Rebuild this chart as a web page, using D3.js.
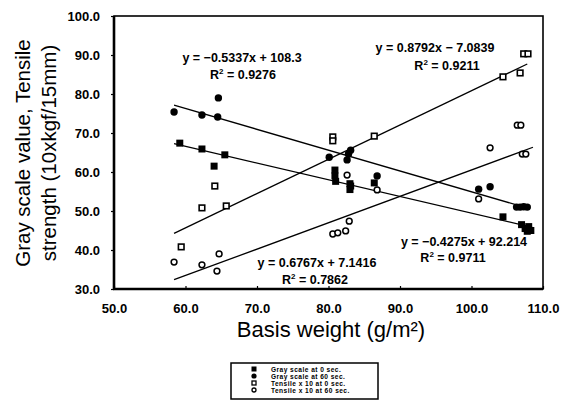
<!DOCTYPE html>
<html><head><meta charset="utf-8">
<script src="https://cdn.jsdelivr.net/npm/d3@7"></script>
<style>body{margin:0;background:#fff}svg{display:block}text{font-family:"Liberation Sans",Arial,sans-serif}</style>
</head><body>
<svg id="c" width="565" height="402"></svg>
<script>
// ---- data ----
const grayAt0X = [59.2, 62.3, 64.0, 65.5, 80.9, 80.9, 81.0, 83.0, 83.0, 83.1, 86.4, 104.4, 107.0, 107.5, 108.0, 108.3, 107.8];
const grayAt0Y = [67.4, 65.9, 61.5, 64.4, 60.5, 59.0, 57.6, 57.0, 55.5, 56.4, 57.2, 48.5, 46.5, 45.5, 46.0, 45.0, 44.8];
const grayAt60X = [58.4, 62.3, 64.5, 64.6, 80.1, 82.6, 82.8, 83.1, 86.8, 101.0, 102.6, 106.3, 106.8, 107.3, 107.8];
const grayAt60Y = [75.4, 74.6, 74.1, 79.0, 63.8, 63.1, 64.6, 65.6, 59.0, 55.6, 56.2, 51.0, 51.0, 51.1, 51.0];
const tensileAt0X = [59.4, 62.3, 64.1, 65.7, 80.6, 80.6, 86.4, 104.4, 106.8, 107.3, 107.9];
const tensileAt0Y = [40.8, 50.8, 56.4, 51.3, 69.0, 68.0, 69.2, 84.4, 85.4, 90.3, 90.3];
const tensileAt60X = [58.4, 62.3, 64.4, 64.7, 80.6, 81.3, 82.4, 82.9, 82.6, 86.8, 101.0, 102.6, 106.4, 106.9, 107.1, 107.6];
const tensileAt60Y = [36.9, 36.2, 34.6, 39.0, 44.1, 44.4, 44.9, 47.4, 59.2, 55.4, 53.1, 66.2, 72.0, 72.0, 64.6, 64.6];
// trend lines: slope, intercept, x extent
const trendSlopes = [-0.4275, -0.5337, 0.8792, 0.6767];
const trendIntercepts = [92.214, 108.3, -7.0839, -7.1416];
const trendStartX = [58.4, 58.4, 58.4, 58.4];
const trendEndX = [108.5, 108.2, 107.8, 108.6];
const xTicks = [50, 60, 70, 80, 90, 100, 110];
const yTicks = [30, 40, 50, 60, 70, 80, 90, 100];
const legendLabels = ["Gray scale at 0 sec.", "Gray scale at 60 sec.", "Tensile x 10 at 0 sec.", "Tensile x 10 at 60 sec."];
const eqLines = ["y = \u22120.4275x + 92.214", "y = \u22120.5337x + 108.3", "y = 0.8792x \u2212 7.0839", "y = 0.6767x + 7.1416"];
const r2Lines = ["0.9711", "0.9276", "0.9211", "0.7862"];

// ---- chart ----
const svg = d3.select("#c");
const x = d3.scaleLinear().domain([50, 110]).range([114, 543]);
const y = d3.scaleLinear().domain([30, 100]).range([289, 16]);

// frame
svg.append("rect").attr("x", x(50)).attr("y", y(100)).attr("width", x(110) - x(50)).attr("height", y(30) - y(100))
  .attr("fill", "none").attr("stroke", "#000").attr("stroke-width", 1.6);

// axes
const ya = svg.append("g").attr("transform", `translate(${x(50)},0)`)
  .call(d3.axisLeft(y).tickValues(yTicks).tickFormat(d3.format(".1f")).tickSize(3).tickPadding(11).tickSizeOuter(0));
const xa = svg.append("g").attr("transform", `translate(0,${y(30)})`)
  .call(d3.axisBottom(x).tickValues(xTicks).tickFormat(d3.format(".1f")).tickSize(-3).tickPadding(15).tickSizeOuter(0));
[ya, xa].forEach(a => {
  a.select(".domain").remove();
  a.selectAll("text").attr("font-size", 13).attr("font-weight", "bold").attr("fill", "#000");
  a.selectAll("line").attr("stroke", "#000").attr("stroke-width", 1.2);
});
svg.append("line").attr("x1", x(50)).attr("x2", x(50)).attr("y1", y(100)).attr("y2", y(30) + 1).attr("stroke", "#000").attr("stroke-width", 2.6);
svg.append("line").attr("x1", x(50) - 1).attr("x2", x(110)).attr("y1", y(30)).attr("y2", y(30)).attr("stroke", "#000").attr("stroke-width", 2.6);

// trend lines
trendSlopes.forEach((m, i) => {
  const b = trendIntercepts[i];
  svg.append("line")
    .attr("x1", x(trendStartX[i])).attr("y1", y(m * trendStartX[i] + b))
    .attr("x2", x(trendEndX[i])).attr("y2", y(m * trendEndX[i] + b))
    .attr("stroke", "#000").attr("stroke-width", 1.3);
});

// markers
function drawSeries(xs, ys, kind) {
  const g = svg.append("g");
  xs.forEach((xv, i) => {
    const px = x(xv), py = y(ys[i]);
    if (kind === "fsq") g.append("rect").attr("x", px - 3.5).attr("y", py - 3.5).attr("width", 7).attr("height", 7).attr("fill", "#000");
    if (kind === "fci") g.append("circle").attr("cx", px).attr("cy", py).attr("r", 3.7).attr("fill", "#000");
    if (kind === "osq") g.append("rect").attr("x", px - 2.8).attr("y", py - 2.8).attr("width", 5.6).attr("height", 5.6).attr("fill", "#fff").attr("stroke", "#000").attr("stroke-width", 1.6);
    if (kind === "oci") g.append("circle").attr("cx", px).attr("cy", py).attr("r", 2.9).attr("fill", "#fff").attr("stroke", "#000").attr("stroke-width", 1.5);
  });
}
drawSeries(grayAt0X, grayAt0Y, "fsq");
drawSeries(grayAt60X, grayAt60Y, "fci");
drawSeries(tensileAt0X, tensileAt0Y, "osq");
drawSeries(tensileAt60X, tensileAt60Y, "oci");

// equations
const eqPos = [[464, 246, 453, 262], [242, 62, 243, 79], [435, 52, 447, 70], [317, 267, 315, 284]];
eqPos.forEach((p, i) => {
  svg.append("text").attr("x", p[0]).attr("y", p[1]).attr("text-anchor", "middle")
    .attr("font-size", 12.5).attr("font-weight", "bold").text(eqLines[i]);
  const t = svg.append("text").attr("x", p[2]).attr("y", p[3]).attr("text-anchor", "middle")
    .attr("font-size", 12.5).attr("font-weight", "bold");
  t.append("tspan").text("R");
  t.append("tspan").attr("font-size", 8).attr("dy", -5).text("2");
  t.append("tspan").attr("dy", 5).text(" = " + r2Lines[i]);
});

// axis titles
svg.append("text").attr("x", 331).attr("y", 337).attr("text-anchor", "middle").attr("font-size", 22).text("Basis weight (g/m\u00B2)");
const yt = svg.append("text").attr("transform", "translate(30,153) rotate(-90)").attr("text-anchor", "middle").attr("font-size", 20.5);
yt.append("tspan").attr("x", 0).attr("y", 0).text("Gray scale value, Tensile");
yt.append("tspan").attr("x", 0).attr("y", 26).text("strength (10xkgf/15mm)");

// legend
svg.append("rect").attr("x", 231).attr("y", 363).attr("width", 147).attr("height", 36)
  .attr("fill", "none").attr("stroke", "#000").attr("stroke-width", 1.5);
const kinds = ["fsq", "fci", "osq", "oci"];
legendLabels.forEach((lab, i) => {
  const cy = 369 + i * 7;
  const k = kinds[i];
  if (k === "fsq") svg.append("rect").attr("x", 251.5).attr("y", cy - 2.5).attr("width", 5).attr("height", 5).attr("fill", "#000");
  if (k === "fci") svg.append("circle").attr("cx", 254).attr("cy", cy).attr("r", 2.6).attr("fill", "#000");
  if (k === "osq") svg.append("rect").attr("x", 252).attr("y", cy - 2).attr("width", 4).attr("height", 4).attr("fill", "#fff").attr("stroke", "#000").attr("stroke-width", 1.3);
  if (k === "oci") svg.append("circle").attr("cx", 254).attr("cy", cy).attr("r", 2).attr("fill", "#fff").attr("stroke", "#000").attr("stroke-width", 1.3);
  svg.append("text").attr("x", 271).attr("y", cy + 2.5).attr("font-size", 6.6).attr("letter-spacing", 0.45)
    .attr("font-weight", "bold").text(lab);
});
</script>
</body></html>
